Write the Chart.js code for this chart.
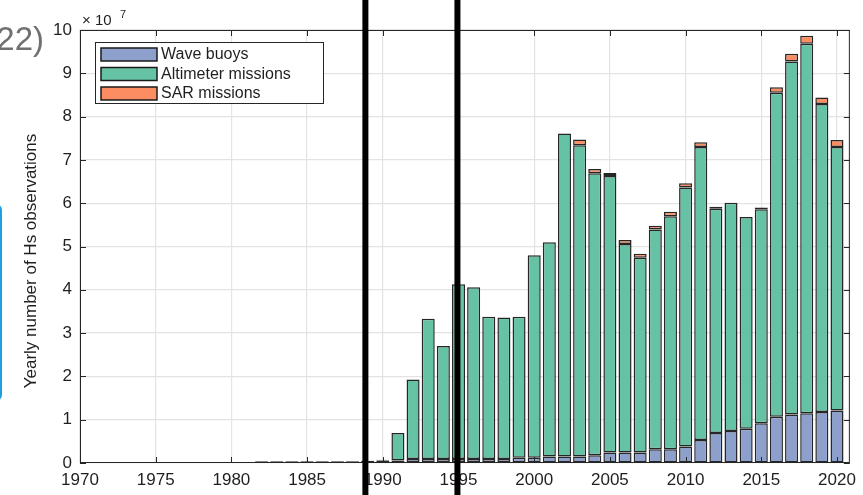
<!DOCTYPE html>
<html>
<head>
<meta charset="utf-8">
<script src="https://cdn.jsdelivr.net/npm/chart.js@4.4.0/dist/chart.umd.min.js"></script>
<style>
    html, body { margin: 0; padding: 0; background: #fff; }
    #contenedor { position: relative; width: 863px; height: 495px; }
</style>
</head>
<body>
<div id="contenedor"><canvas id="graficoHs"></canvas></div>
<script>
// ================== DATOS (unidades de 10^7) ==================

const anios = [1982, 1983, 1984, 1985, 1986, 1987, 1988, 1989, 1990, 1991,
               1992, 1993, 1994, 1995, 1996, 1997, 1998, 1999, 2000, 2001,
               2002, 2003, 2004, 2005, 2006, 2007, 2008, 2009, 2010, 2011,
               2012, 2013, 2014, 2015, 2016, 2017, 2018, 2019, 2020];

const boyas = [0.04, 0.04, 0.04, 0.04, 0.04, 0.04, 0.04, 0.05, 0.055, 0.06,
               0.09, 0.09, 0.09, 0.09, 0.09, 0.09, 0.09, 0.12, 0.12, 0.15,
               0.15, 0.15, 0.18, 0.24, 0.24, 0.24, 0.32, 0.32, 0.38, 0.53,
               0.69, 0.74, 0.79, 0.92, 1.07, 1.12, 1.15, 1.18, 1.21];

const altimetros = [null, null, null, null, null, null, null, null, 0.02, 0.63,
                    1.84, 3.24, 2.61, 4.04, 3.97, 3.29, 3.27, 3.26, 4.68, 4.95,
                    7.46, 7.19, 6.51, 6.39, 4.82, 4.50, 5.07, 5.38, 5.98, 6.77,
                    5.18, 5.27, 4.89, 4.94, 7.48, 8.15, 8.53, 7.11, 6.09];

const sar = [null, null, null, null, null, null, null, null, null, null,
             null, null, null, null, null, null, null, null, null, null,
             null, 0.13, 0.10, 0.07, 0.09, 0.09, 0.09, 0.10, 0.10, 0.11,
             0.05, null, null, 0.04, 0.13, 0.18, 0.19, 0.15, 0.16];

const etiquetas = ["Wave buoys", "Altimeter missions", "SAR missions"];
const colores = ["#8DA0CB", "#66C2A5", "#FC8D62"];

const ticksX = [1970, 1975, 1980, 1985, 1990, 1995, 2000, 2005, 2010, 2015, 2020];
const ticksY = [0, 1, 2, 3, 4, 5, 6, 7, 8, 9, 10];

// lineas negras superpuestas (en anios)
const lineasNegras = [1988.85, 1994.93];

// ================== ESTILO ==================

const FUENTE = "'Liberation Sans', Arial, sans-serif";
const TEXTO = "#1f1f1f";

function serie(valores) {
    return anios.map((a, i) => ({ x: a, y: valores[i] }));
}

// ================== DECORACION ==================

const decoracion = {
    id: "decoracion",
    afterDatasetsDraw(chart) {
        const { ctx, chartArea: a, scales: { x, y } } = chart;
        ctx.save();
        ctx.strokeStyle = "#262626";
        ctx.lineWidth = 1;
        ctx.strokeRect(a.left + 0.5, a.top + 0.5, a.right - a.left - 1, a.bottom - a.top - 1);

        // marcas hacia dentro (estilo matlab)
        ctx.beginPath();
        ticksX.forEach(v => {
            const px = Math.round(x.getPixelForValue(v)) + 0.5;
            ctx.moveTo(px, a.bottom); ctx.lineTo(px, a.bottom - 6);
            ctx.moveTo(px, a.top); ctx.lineTo(px, a.top + 6);
        });
        ticksY.forEach(v => {
            const py = Math.round(y.getPixelForValue(v)) + 0.5;
            ctx.moveTo(a.left, py); ctx.lineTo(a.left + 6, py);
            ctx.moveTo(a.right, py); ctx.lineTo(a.right - 6, py);
        });
        ctx.stroke();
        ctx.restore();
    },
    afterDraw(chart) {
        const { ctx, scales: { x } } = chart;
        ctx.save();

        // texto recortado de la izquierda
        ctx.fillStyle = "#707070";
        ctx.font = "33px " + FUENTE;
        ctx.textAlign = "right";
        ctx.textBaseline = "alphabetic";
        ctx.fillText("22)", 44, 50);

        // recuadro azul recortado
        ctx.strokeStyle = "#1EA0E0";
        ctx.lineWidth = 2;
        ctx.beginPath();
        ctx.roundRect(-12, 205, 13, 195, 5);
        ctx.stroke();

        // multiplicador del eje
        ctx.fillStyle = TEXTO;
        ctx.textAlign = "left";
        ctx.font = "15px " + FUENTE;
        ctx.fillText("\u00d7 10", 82, 25);
        ctx.font = "11px " + FUENTE;
        ctx.fillText("7", 120, 18);

        // titulo eje y
        ctx.save();
        ctx.translate(31, 261);
        ctx.rotate(-Math.PI / 2);
        ctx.font = "17px " + FUENTE;
        ctx.textAlign = "center";
        ctx.textBaseline = "middle";
        ctx.fillText("Yearly number of Hs observations", 0, 0);
        ctx.restore();

        // leyenda
        ctx.fillStyle = "#fff";
        ctx.fillRect(95, 42, 228, 61);
        ctx.strokeStyle = "#262626";
        ctx.lineWidth = 1;
        ctx.strokeRect(95.5, 42.5, 228, 61);
        ctx.font = "16px " + FUENTE;
        ctx.textBaseline = "middle";
        etiquetas.forEach((txt, i) => {
            const yy = 48 + i * 19.5;
            ctx.fillStyle = colores[i];
            ctx.fillRect(101, yy, 56, 13);
            ctx.strokeStyle = "#1a1a1a";
            ctx.lineWidth = 1.5;
            ctx.strokeRect(101, yy, 56, 13);
            ctx.fillStyle = TEXTO;
            ctx.fillText(txt, 161, yy + 7);
        });

        // lineas negras gruesas
        ctx.fillStyle = "#000";
        lineasNegras.forEach(v => {
            const px = x.getPixelForValue(v);
            ctx.fillRect(px - 3, 0, 6, chart.height);
        });
        ctx.restore();
    }
};

// ================== GRAFICO ==================

const comunes = {
    borderColor: "#262626",
    borderWidth: 1.5,
    borderSkipped: false,
    barPercentage: 0.86,
    categoryPercentage: 1.0
};

new Chart(document.getElementById("graficoHs"), {
    type: "bar",
    data: {
        datasets: [
            { label: etiquetas[0], data: serie(boyas), backgroundColor: colores[0], ...comunes },
            { label: etiquetas[1], data: serie(altimetros), backgroundColor: colores[1], ...comunes },
            { label: etiquetas[2], data: serie(sar), backgroundColor: colores[2], ...comunes }
        ]
    },
    options: {
        responsive: true,
        maintainAspectRatio: false,
        animation: false,
        layout: { padding: { top: 30, right: 6, left: 0, bottom: 0 } },
        plugins: {
            legend: { display: false },
            tooltip: { enabled: false }
        },
        scales: {
            x: {
                type: "linear",
                stacked: true,
                offset: false,
                min: 1970,
                max: 2020.85,
                afterBuildTicks: s => { s.ticks = ticksX.map(v => ({ value: v })); },
                afterFit: s => { s.height = 32; },
                grid: { color: "#e3e3e3", lineWidth: 1.2, drawTicks: false, offset: false },
                border: { display: false },
                ticks: {
                    color: TEXTO,
                    font: { family: FUENTE, size: 17 },
                    padding: 7,
                    maxRotation: 0,
                    callback: v => String(v)
                }
            },
            y: {
                stacked: true,
                min: 0,
                max: 10,
                afterBuildTicks: s => { s.ticks = ticksY.map(v => ({ value: v })); },
                afterFit: s => { s.width = 80; },
                grid: { color: "#e3e3e3", lineWidth: 1.2, drawTicks: false },
                border: { display: false },
                ticks: {
                    color: TEXTO,
                    font: { family: FUENTE, size: 17 },
                    padding: 8,
                    callback: v => String(v)
                }
            }
        }
    },
    plugins: [decoracion]
});
</script>
</body>
</html>
